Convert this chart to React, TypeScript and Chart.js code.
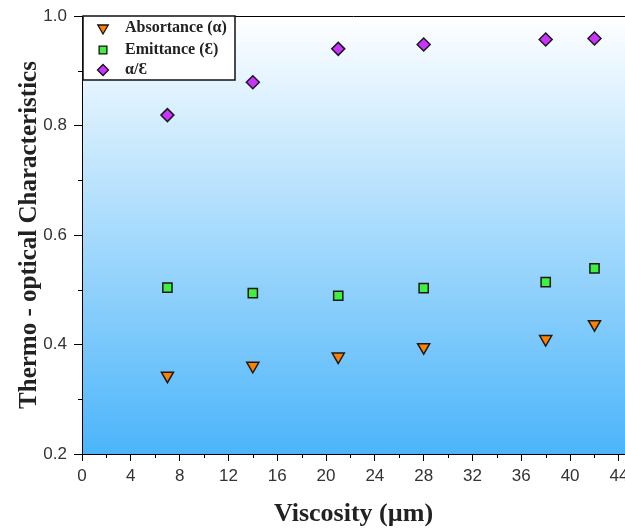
import { useEffect, useRef } from 'react';
import { Chart, registerables } from 'chart.js';

Chart.register(...registerables);

const viscosity = [7, 14, 21, 28, 38, 42];
const absorptance = [0.343, 0.361, 0.378, 0.395, 0.41, 0.437];
const emittance = [0.504, 0.494, 0.489, 0.503, 0.514, 0.539];
const ratio = [0.819, 0.879, 0.94, 0.948, 0.957, 0.959];
const seriesLabels = ['Absortance (α)', 'Emittance (Ɛ)', 'α/Ɛ'];
const seriesColors = ['#ff8000', '#40f040', '#cc33ff'];
const seriesStyles = ['triangle', 'rect', 'rectRot'];

const xTicks = [0, 4, 8, 12, 16, 20, 24, 28, 32, 36, 40, 44];
const xMinorTicks = [2, 6, 10, 14, 18, 22, 26, 30, 34, 38, 42];
const yTicks = [0.2, 0.4, 0.6, 0.8, 1.0];
const yMinorTicks = [0.3, 0.5, 0.7, 0.9];

const xTitle = 'Viscosity (µm)';
const yTitle = 'Thermo - optical Characteristics';

const SERIF = "'Liberation Serif', 'Times New Roman', serif";
const SANS = "'Liberation Sans', Arial, sans-serif";

function drawMarker(ctx: CanvasRenderingContext2D, style: string, cx: number, cy: number, r: number, fill: string) {
  ctx.beginPath();
  if (style === 'triangle') {
    ctx.moveTo(cx - r * 0.866, cy - r * 0.5);
    ctx.lineTo(cx + r * 0.866, cy - r * 0.5);
    ctx.lineTo(cx, cy + r);
    ctx.closePath();
  } else if (style === 'rect') {
    const s = r * 0.7071;
    ctx.rect(cx - s, cy - s, 2 * s, 2 * s);
  } else {
    ctx.moveTo(cx, cy - r);
    ctx.lineTo(cx + r, cy);
    ctx.lineTo(cx, cy + r);
    ctx.lineTo(cx - r, cy);
    ctx.closePath();
  }
  ctx.fillStyle = fill;
  ctx.fill();
  ctx.stroke();
}

const bgPlugin = {
  id: 'bgGradient',
  beforeDraw(chart: any) {
    const { ctx, chartArea: a } = chart;
    const g = ctx.createLinearGradient(0, a.top, 0, a.bottom);
    g.addColorStop(0, '#ffffff');
    g.addColorStop(1, 'rgb(76,181,250)');
    ctx.save();
    ctx.fillStyle = g;
    ctx.fillRect(a.left, a.top, a.right - a.left, a.bottom - a.top);
    ctx.restore();
  },
};

const decorPlugin = {
  id: 'decor',
  afterDraw(chart: any) {
    const { ctx, chartArea: a, scales } = chart;
    const x = scales.x;
    const y = scales.y;
    ctx.save();
    ctx.strokeStyle = '#000';
    ctx.lineWidth = 1;
    ctx.beginPath();
    xMinorTicks.forEach((v) => {
      const px = Math.round(x.getPixelForValue(v)) + 0.5;
      ctx.moveTo(px, a.bottom);
      ctx.lineTo(px, a.bottom + 4);
    });
    yMinorTicks.forEach((v) => {
      const py = Math.round(y.getPixelForValue(v)) + 0.5;
      ctx.moveTo(a.left, py);
      ctx.lineTo(a.left - 4, py);
    });
    ctx.moveTo(a.left, a.top + 0.5);
    ctx.lineTo(a.right, a.top + 0.5);
    ctx.stroke();

    // legend box
    const lx = a.left + 1;
    const ly = a.top;
    const lw = 152;
    const lh = 64;
    ctx.fillStyle = '#ffffff';
    ctx.fillRect(lx, ly, lw, lh);
    ctx.lineWidth = 1.5;
    ctx.strokeStyle = '#111';
    ctx.strokeRect(lx, ly, lw, lh);
    const rows = [12, 34, 54];
    const sizes = [6, 5.5, 5.5];
    ctx.lineWidth = 1.3;
    seriesLabels.forEach((label, i) => {
      const cy = ly + rows[i];
      ctx.strokeStyle = '#111';
      drawMarker(ctx, seriesStyles[i], lx + 20, cy, sizes[i], seriesColors[i]);
      ctx.fillStyle = '#222';
      ctx.font = `bold 16px ${SERIF}`;
      ctx.textBaseline = 'middle';
      ctx.textAlign = 'left';
      ctx.fillText(label, lx + 42, cy);
    });
    ctx.restore();
  },
};

export default function App() {
  const ref = useRef<HTMLCanvasElement | null>(null);

  useEffect(() => {
    if (!ref.current) return;
    const mk = (vals: number[]) => viscosity.map((v, i) => ({ x: v, y: vals[i] }));
    const seriesData = [absorptance, emittance, ratio];
    const radii = [7, 6.5, 6.5];
    const chart = new Chart(ref.current, {
      type: 'scatter',
      data: {
        datasets: seriesData.map((vals, i) => ({
          label: seriesLabels[i],
          data: mk(vals),
          pointStyle: seriesStyles[i] as any,
          rotation: i === 0 ? 180 : 0,
          pointRadius: radii[i],
          pointHoverRadius: radii[i],
          backgroundColor: seriesColors[i],
          borderColor: '#1a1a1a',
          borderWidth: 1.5,
          showLine: false,
        })),
      },
      plugins: [bgPlugin, decorPlugin],
      options: {
        animation: false,
        responsive: false,
        events: [],
        layout: { autoPadding: false, padding: { top: 16, right: 0, bottom: 0, left: 0 } },
        plugins: {
          legend: { display: false },
          tooltip: { enabled: false },
        },
        scales: {
          x: {
            type: 'linear',
            position: 'bottom',
            min: 0,
            max: 44.5,
            afterBuildTicks: (scale: any) => {
              scale.ticks = xTicks.map((v) => ({ value: v }));
            },
            afterFit: (scale: any) => {
              scale.height = 77;
              scale.paddingLeft = 0;
              scale.paddingRight = 0;
            },
            grid: { display: true, drawOnChartArea: false, drawTicks: true, tickLength: 7, color: '#000', lineWidth: 1 },
            border: { display: true, color: '#000', width: 1 },
            ticks: {
              color: '#333',
              font: { family: SANS, size: 17 },
              padding: 5,
              maxRotation: 0,
              autoSkip: false,
              callback: (v: any) => String(v),
            },
            title: {
              display: true,
              text: xTitle,
              color: '#222',
              font: { family: SERIF, size: 26, weight: 'bold', lineHeight: 1 },
              padding: { top: 4, bottom: 4 },
            },
          },
          y: {
            type: 'linear',
            position: 'left',
            min: 0.2,
            max: 1.0,
            afterBuildTicks: (scale: any) => {
              scale.ticks = yTicks.map((v) => ({ value: v }));
            },
            afterFit: (scale: any) => {
              scale.width = 82;
              scale.paddingTop = 0;
              scale.paddingBottom = 0;
            },
            grid: { display: true, drawOnChartArea: false, drawTicks: true, tickLength: 8, color: '#000', lineWidth: 1 },
            border: { display: true, color: '#000', width: 1 },
            ticks: {
              color: '#333',
              font: { family: SANS, size: 17 },
              padding: 7,
              autoSkip: false,
              callback: (v: any) => Number(v).toFixed(1),
            },
            title: {
              display: true,
              text: yTitle,
              color: '#222',
              font: { family: SERIF, size: 25, weight: 'bold', lineHeight: 1 },
              padding: { top: 17, bottom: 17 },
            },
          },
        },
      } as any,
    });
    return () => chart.destroy();
  }, []);

  return (
    <div style={{ position: 'fixed', left: 0, top: 0, width: 625, height: 531, background: '#fff' }}>
      <canvas ref={ref} width={625} height={531} style={{ display: 'block', width: 625, height: 531 }} />
    </div>
  );
}
